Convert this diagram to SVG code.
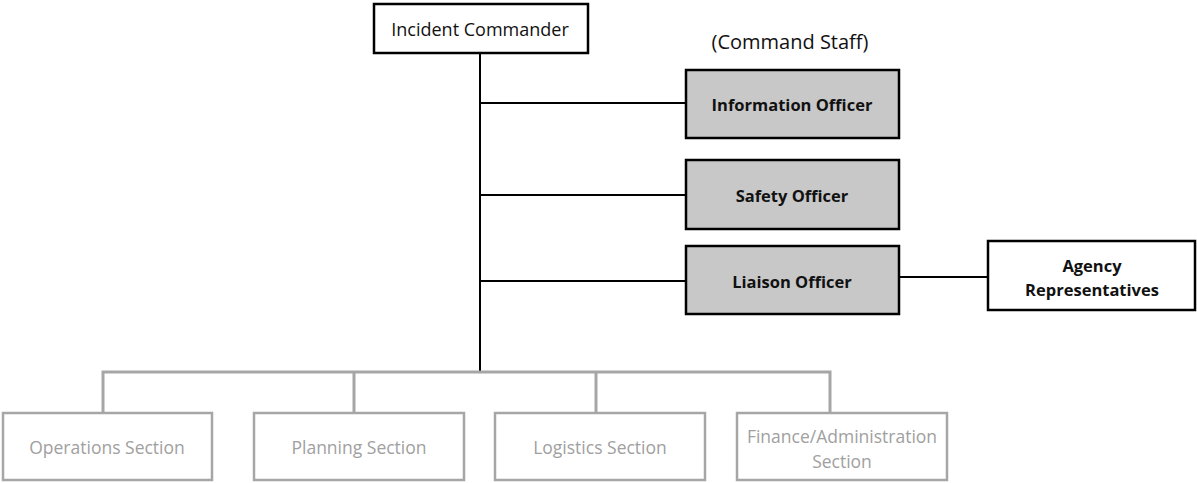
<svg xmlns="http://www.w3.org/2000/svg" width="1197" height="483" viewBox="0 0 1197 483">
<style>
text{font-family:"Open Sans","Liberation Sans",sans-serif;font-size:17px;text-anchor:middle;dominant-baseline:central}
.blk{fill:#fff;stroke:#000;stroke-width:2.5}
.staff{fill:#c8c8c8;stroke:#000;stroke-width:2.5}
.sec{fill:#fff;stroke:#a6a6a6;stroke-width:2.5}
.b{font-weight:bold;fill:#111;font-size:16.5px}
.n{fill:#111}
.g{fill:#a0a0a0;font-size:17.5px}
.cl{stroke:#000;stroke-width:2;fill:none}
.gl{stroke:#a6a6a6;stroke-width:3;fill:none}
</style>
<rect width="1197" height="483" fill="#fff"/>
<g id="connectors">
<line class="cl" x1="480" y1="53" x2="480" y2="372"/>
<line class="cl" x1="480" y1="103" x2="686" y2="103"/>
<line class="cl" x1="480" y1="195" x2="686" y2="195"/>
<line class="cl" x1="480" y1="281" x2="686" y2="281"/>
<line class="cl" x1="899" y1="277" x2="988" y2="277"/>
<polyline class="gl" points="103,413 103,372 830,372 830,413"/>
<line class="gl" x1="354" y1="372" x2="354" y2="413"/>
<line class="gl" x1="596" y1="372" x2="596" y2="413"/>
</g>
<g id="incident-commander"><rect class="blk" x="374" y="4" width="214" height="49"/><text class="n" x="480" y="29" style="font-size:18px">Incident Commander</text></g>
<g id="command-staff-label"><text class="n" x="790" y="41" style="font-size:20px">(Command Staff)</text></g>
<g id="information-officer"><rect class="staff" x="686" y="70" width="213" height="68"/><text class="b" x="792" y="104">Information Officer</text></g>
<g id="safety-officer"><rect class="staff" x="686" y="160" width="213" height="69"/><text class="b" x="792" y="195">Safety Officer</text></g>
<g id="liaison-officer"><rect class="staff" x="686" y="246" width="213" height="68"/><text class="b" x="792" y="281">Liaison Officer</text></g>
<g id="agency-representatives"><rect class="blk" x="988" y="241" width="207" height="69"/><text class="b" x="1092" y="265">Agency</text><text class="b" x="1092" y="289">Representatives</text></g>
<g id="operations-section"><rect class="sec" x="3" y="413" width="209" height="67"/><text class="g" x="107" y="447">Operations Section</text></g>
<g id="planning-section"><rect class="sec" x="254" y="413" width="210" height="67"/><text class="g" x="359" y="447">Planning Section</text></g>
<g id="logistics-section"><rect class="sec" x="495" y="413" width="210" height="67"/><text class="g" x="600" y="447">Logistics Section</text></g>
<g id="finance-section"><rect class="sec" x="737" y="413" width="210" height="67"/><text class="g" x="842" y="436">Finance/Administration</text><text class="g" x="842" y="461">Section</text></g>
</svg>
